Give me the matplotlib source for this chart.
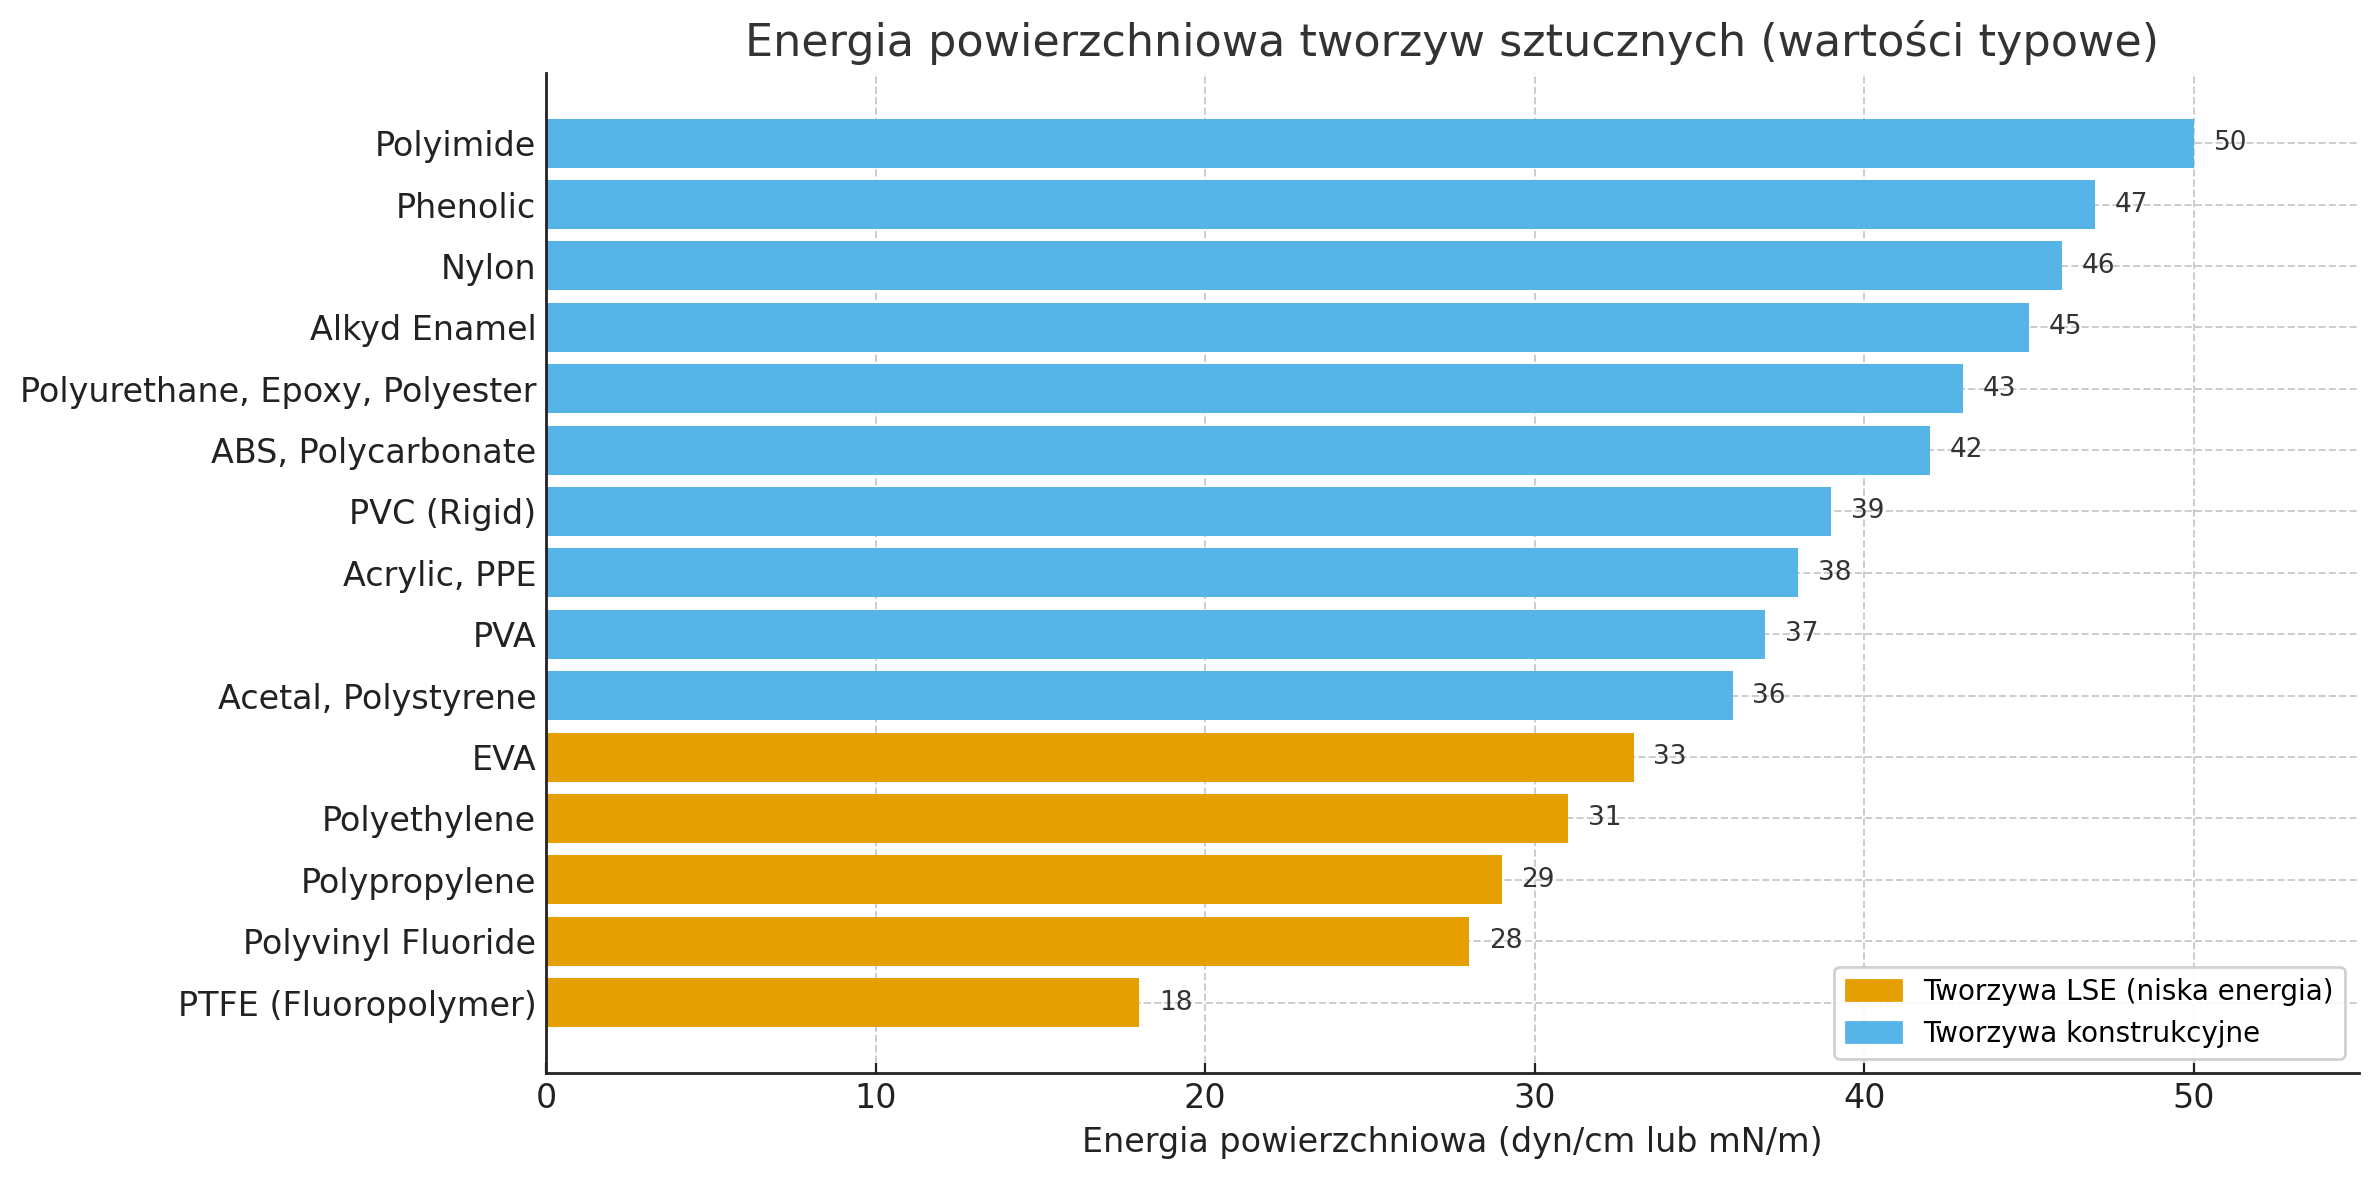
import matplotlib

matplotlib.use("Agg")
import matplotlib.pyplot as plt
from matplotlib.patches import Patch

# Typical surface energy values (dyn/cm), top to bottom as shown.
MATERIALS = [
    "Polyimide", "Phenolic", "Nylon", "Alkyd Enamel",
    "Polyurethane, Epoxy, Polyester", "ABS, Polycarbonate", "PVC (Rigid)",
    "Acrylic, PPE", "PVA", "Acetal, Polystyrene", "EVA", "Polyethylene",
    "Polypropylene", "Polyvinyl Fluoride", "PTFE (Fluoropolymer)",
]
ENERGY = [50, 47, 46, 45, 43, 42, 39, 38, 37, 36, 33, 31, 29, 28, 18]
GROUP = ["eng"] * 10 + ["lse"] * 5

COLORS = {"lse": "#E69F00", "eng": "#56B4E9"}
LABELS = {"lse": "Tworzywa LSE (niska energia)", "eng": "Tworzywa konstrukcyjne"}

fig, ax = plt.subplots(figsize=(11.895, 5.9), dpi=200)
fig.subplots_adjust(left=0.2295, right=0.9915, top=0.938, bottom=0.091)

ypos = list(range(len(MATERIALS)))[::-1]
ax.barh(ypos, ENERGY, height=0.8, color=[COLORS[g] for g in GROUP], zorder=2)
for y, v in zip(ypos, ENERGY):
    ax.text(v + 0.6, y, f"{v}", va="center", ha="left", fontsize=9.5, color="#333333")

ax.set_yticks(ypos)
ax.set_yticklabels(MATERIALS, fontsize=12)
ax.tick_params(axis="both", direction="in", color="#222222", labelcolor="#222222")
ax.tick_params(axis="x", labelsize=12)
ax.set_xlim(0, 55)
ax.set_xlabel("Energia powierzchniowa (dyn/cm lub mN/m)", fontsize=12, color="#222222")
ax.set_title("Energia powierzchniowa tworzyw sztucznych (wartości typowe)",
             fontsize=16, color="#333333")
ax.grid(True, linestyle="--", color="#cccccc", linewidth=0.7, zorder=0)
ax.set_axisbelow(True)
for side in ("top", "right"):
    ax.spines[side].set_visible(False)
for side in ("left", "bottom"):
    ax.spines[side].set_linewidth(1.0)
    ax.spines[side].set_color("#222222")

handles = [Patch(color=COLORS[k], label=LABELS[k]) for k in ("lse", "eng")]
ax.legend(handles=handles, loc="lower right", fontsize=10, framealpha=0.9)

fig.savefig("out.png", dpi=200)
